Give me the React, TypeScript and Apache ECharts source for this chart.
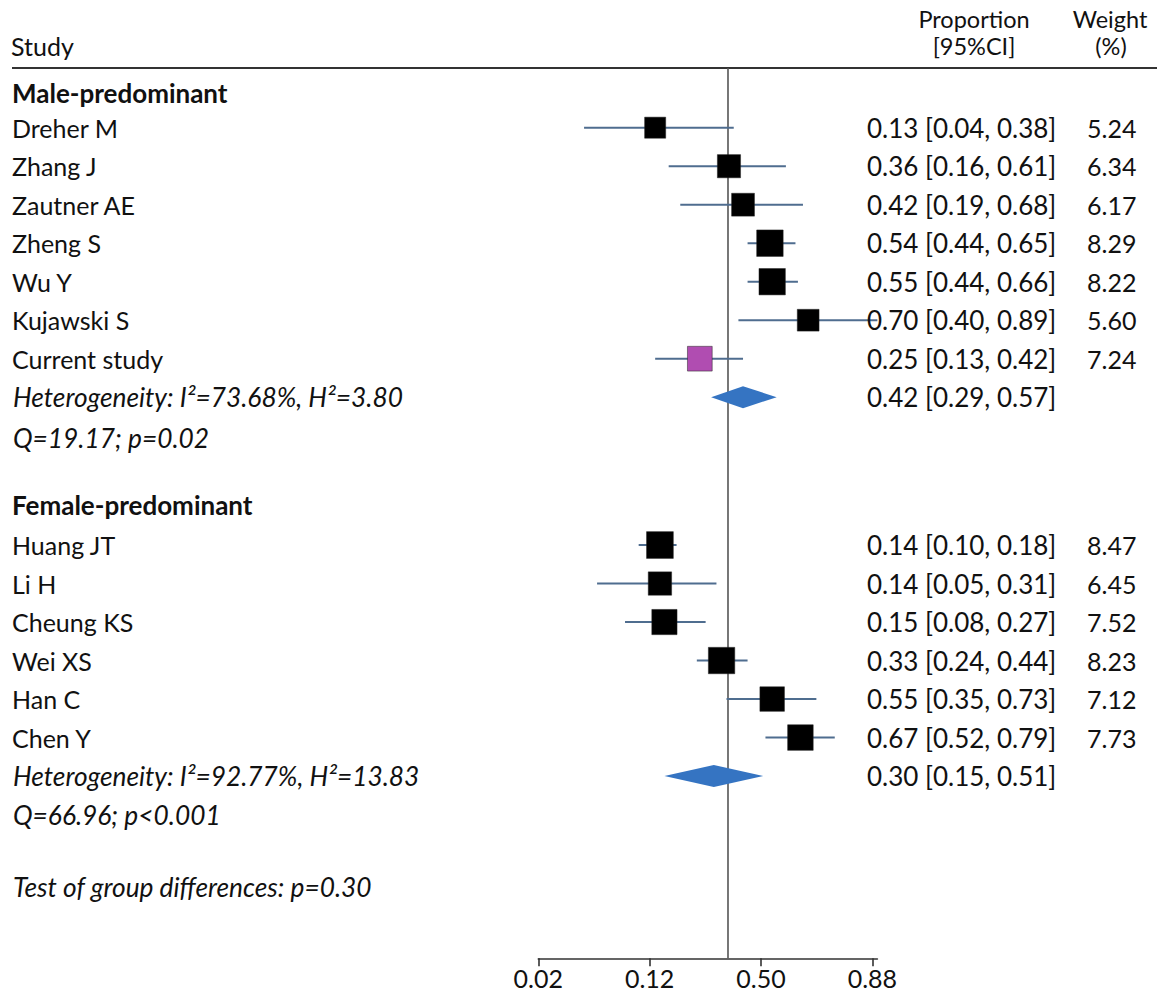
import React, { useEffect, useRef } from "react";
import * as echarts from "echarts";

// ---------- data ----------
const maleStudies = ["Dreher M", "Zhang J", "Zautner AE", "Zheng S", "Wu Y", "Kujawski S", "Current study"];
const maleProp = [0.13, 0.36, 0.42, 0.54, 0.55, 0.70, 0.25];
const maleLower = [0.04, 0.16, 0.19, 0.44, 0.44, 0.40, 0.13];
const maleUpper = [0.38, 0.61, 0.68, 0.65, 0.66, 0.89, 0.42];
const maleWeight = [5.24, 6.34, 6.17, 8.29, 8.22, 5.60, 7.24];
const maleSummary = [0.42, 0.29, 0.57]; // estimate, lower, upper
const maleHetText = "Heterogeneity: I\u00B2=73.68%, H\u00B2=3.80";
const maleQText = "Q=19.17; p=0.02";

const femaleStudies = ["Huang JT", "Li H", "Cheung KS", "Wei XS", "Han C", "Chen Y"];
const femaleProp = [0.14, 0.14, 0.15, 0.33, 0.55, 0.67];
const femaleLower = [0.10, 0.05, 0.08, 0.24, 0.35, 0.52];
const femaleUpper = [0.18, 0.31, 0.27, 0.44, 0.73, 0.79];
const femaleWeight = [8.47, 6.45, 7.52, 8.23, 7.12, 7.73];
const femaleSummary = [0.30, 0.15, 0.51];
const femaleHetText = "Heterogeneity: I\u00B2=92.77%, H\u00B2=13.83";
const femaleQText = "Q=66.96; p<0.001";

const groupTestText = "Test of group differences: p=0.30";
const overallProportion = 0.356;
const axisTickLogits = [-4, -2, 0, 2];
const highlightedStudy = "Current study";

// ---------- helpers ----------
const logit = (p: number) => Math.log(p / (1 - p));
const invlogit = (x: number) => 1 / (1 + Math.exp(-x));
const fmt = (v: number) => v.toFixed(2);

// ---------- layout ----------
const FONT = "Lato, 'Open Sans', sans-serif";
const FS = 25;
const FS_NUM = 26;
const FS_ITALIC = 26.3;
const FS_BOLD = 26;
const TEXT = "#111111";
const CI_COLOR = "#4f6d8f";
const DIAMOND = "#3574c2";
const MAGENTA = "#b04db1";
const GRID_TOP = 68;
const GRID_BOTTOM_PX = 958.3;
const ROW_PX = 38.5;
const FIRST_ROW_PX = 127.7;
const Y_MIN = -(FIRST_ROW_PX - GRID_TOP) / ROW_PX;
const Y_MAX = Y_MIN + (GRID_BOTTOM_PX - GRID_TOP) / ROW_PX;
const ROW = {
  maleHeader: -0.9,
  maleStart: 0,
  maleHet: 7,
  maleQ: 8.06,
  femaleHeader: 9.8,
  femaleStart: 10.84,
  femaleHet: 16.84,
  femaleQ: 17.85,
  test: 19.72,
};
const X_MIN = -4;
const X_MAX = logit(Math.max(...maleUpper, ...femaleUpper));
const COL_NAME = 12;
const COL_PROP = 867;
const COL_WEIGHT = 1087;

type TRow = { row: number; label: string; kind: "header" | "study" | "italic"; prop?: string; weight?: string };

function buildRows() {
  const studies: number[][] = [];
  const table: TRow[] = [];
  table.push({ row: ROW.maleHeader, label: "Male-predominant", kind: "header" });
  maleStudies.forEach((s, i) => {
    const r = ROW.maleStart + i;
    studies.push([logit(maleProp[i]), logit(maleLower[i]), logit(maleUpper[i]), r, maleWeight[i], s === highlightedStudy ? 1 : 0]);
    table.push({ row: r, label: s, kind: "study", prop: `${fmt(maleProp[i])} [${fmt(maleLower[i])}, ${fmt(maleUpper[i])}]`, weight: fmt(maleWeight[i]) });
  });
  table.push({ row: ROW.maleHet, label: maleHetText, kind: "italic", prop: `${fmt(maleSummary[0])} [${fmt(maleSummary[1])}, ${fmt(maleSummary[2])}]` });
  table.push({ row: ROW.maleQ, label: maleQText, kind: "italic" });
  table.push({ row: ROW.femaleHeader, label: "Female-predominant", kind: "header" });
  femaleStudies.forEach((s, i) => {
    const r = ROW.femaleStart + i;
    studies.push([logit(femaleProp[i]), logit(femaleLower[i]), logit(femaleUpper[i]), r, femaleWeight[i], s === highlightedStudy ? 1 : 0]);
    table.push({ row: r, label: s, kind: "study", prop: `${fmt(femaleProp[i])} [${fmt(femaleLower[i])}, ${fmt(femaleUpper[i])}]`, weight: fmt(femaleWeight[i]) });
  });
  table.push({ row: ROW.femaleHet, label: femaleHetText, kind: "italic", prop: `${fmt(femaleSummary[0])} [${fmt(femaleSummary[1])}, ${fmt(femaleSummary[2])}]` });
  table.push({ row: ROW.femaleQ, label: femaleQText, kind: "italic" });
  table.push({ row: ROW.test, label: groupTestText, kind: "italic" });
  const diamonds = [
    [logit(maleSummary[0]), logit(maleSummary[1]), logit(maleSummary[2]), ROW.maleHet],
    [logit(femaleSummary[0]), logit(femaleSummary[1]), logit(femaleSummary[2]), ROW.femaleHet],
  ];
  return { studies, table, diamonds };
}

function txt(text: string, x: number, y: number, opts: any = {}) {
  return {
    type: "text",
    x,
    y,
    style: {
      text,
      fill: TEXT,
      fontFamily: FONT,
      fontSize: opts.size || FS,
      lineHeight: opts.lineHeight,
      fontWeight: opts.bold ? "bold" : "normal",
      fontStyle: opts.italic ? "italic" : "normal",
      align: opts.align || "left",
      textAlign: opts.align || "left",
      verticalAlign: "middle",
      textVerticalAlign: "middle",
    },
  };
}

export default function App() {
  const ref = useRef<HTMLDivElement>(null);
  useEffect(() => {
    if (!ref.current) return;
    const chart = echarts.init(ref.current, undefined, { renderer: "svg" });
    const { studies, table, diamonds } = buildRows();
    const overall = logit(overallProportion);

    chart.setOption({
      animation: false,
      backgroundColor: "#ffffff",
      grid: { left: 538.3, right: 1159 - 877.4, top: GRID_TOP, bottom: 993 - GRID_BOTTOM_PX, containLabel: false },
      xAxis: {
        type: "value",
        min: X_MIN,
        max: X_MAX,
        interval: 2,
        position: "bottom",
        splitLine: { show: false },
        axisLine: { show: true, onZero: false, lineStyle: { color: "#333", width: 1.6 } },
        axisTick: { show: true, length: 8, customValues: axisTickLogits, lineStyle: { color: "#333", width: 1.6 } },
        axisLabel: {
          customValues: axisTickLogits,
          margin: 9,
          lineHeight: 22,
          color: TEXT,
          fontFamily: FONT,
          fontSize: 25,
          formatter: (v: number) => fmt(invlogit(v)),
        },
      },
      yAxis: { type: "value", inverse: true, min: Y_MIN, max: Y_MAX, show: false },
      graphic: [
        { type: "line", shape: { x1: 12, y1: GRID_TOP, x2: 1157, y2: GRID_TOP }, style: { stroke: "#333", lineWidth: 2 } },
        txt("Study", 11, 46),
        txt("Proportion", 974, 19, { align: "center", size: 23.5 }),
        txt("[95%CI]", 974, 46, { align: "center", size: 23.5 }),
        txt("Weight", 1110, 19, { align: "center", size: 23.5 }),
        txt("(%)", 1111, 46, { align: "center", size: 23.5 }),
      ],
      series: [
        {
          type: "line",
          z: 1,
          symbol: "none",
          silent: true,
          lineStyle: { color: "#555", width: 1.6 },
          data: [
            [overall, Y_MIN],
            [overall, Y_MAX],
          ],
        },
        {
          type: "custom",
          z: 3,
          clip: false,
          silent: true,
          encode: { x: [0, 1, 2], y: 3 },
          data: studies,
          renderItem: (_p: any, api: any) => {
            const row = api.value(3);
            const pE = api.coord([api.value(0), row]);
            const pL = api.coord([api.value(1), row]);
            const pH = api.coord([api.value(2), row]);
            const side = 9.2 * Math.sqrt(api.value(4));
            return {
              type: "group",
              children: [
                { type: "line", shape: { x1: pL[0], y1: pL[1], x2: pH[0], y2: pH[1] }, style: { stroke: CI_COLOR, lineWidth: 2 } },
                {
                  type: "rect",
                  shape: { x: pE[0] - side / 2, y: pE[1] - side / 2, width: side, height: side },
                  style: { fill: api.value(5) ? MAGENTA : "#000000", stroke: "#222", lineWidth: 0.5 },
                },
              ],
            };
          },
        },
        {
          type: "custom",
          z: 3,
          clip: false,
          silent: true,
          encode: { x: [0, 1, 2], y: 3 },
          data: diamonds,
          renderItem: (_p: any, api: any) => {
            const row = api.value(3);
            const pE = api.coord([api.value(0), row]);
            const pL = api.coord([api.value(1), row]);
            const pH = api.coord([api.value(2), row]);
            const h = 11;
            return {
              type: "polygon",
              shape: { points: [[pL[0], pL[1]], [pE[0], pE[1] - h], [pH[0], pH[1]], [pE[0], pE[1] + h]] },
              style: { fill: DIAMOND },
            };
          },
        },
        {
          type: "custom",
          z: 4,
          clip: false,
          silent: true,
          encode: { x: 0, y: 1 },
          data: table.map((r) => [X_MIN, r.row]),
          renderItem: (p: any, api: any) => {
            const r = table[p.dataIndex];
            const y = api.coord([X_MIN, api.value(1)])[1];
            const size = r.kind === "italic" ? FS_ITALIC : r.kind === "header" ? FS_BOLD : FS;
            const children: any[] = [
              txt(r.label, r.kind === "italic" ? COL_NAME + 1 : COL_NAME, y, {
                bold: r.kind === "header",
                italic: r.kind === "italic",
                size,
              }),
            ];
            if (r.prop) children.push(txt(r.prop, COL_PROP, y, { size: FS_NUM }));
            if (r.weight) children.push(txt(r.weight, COL_WEIGHT, y));
            return { type: "group", children };
          },
        },
      ],
    });
    return () => chart.dispose();
  }, []);
  return (
    <div
      ref={ref}
      style={{ position: "absolute", left: 0, top: 0, width: 1159, height: 993, background: "#fff" }}
    />
  );
}
